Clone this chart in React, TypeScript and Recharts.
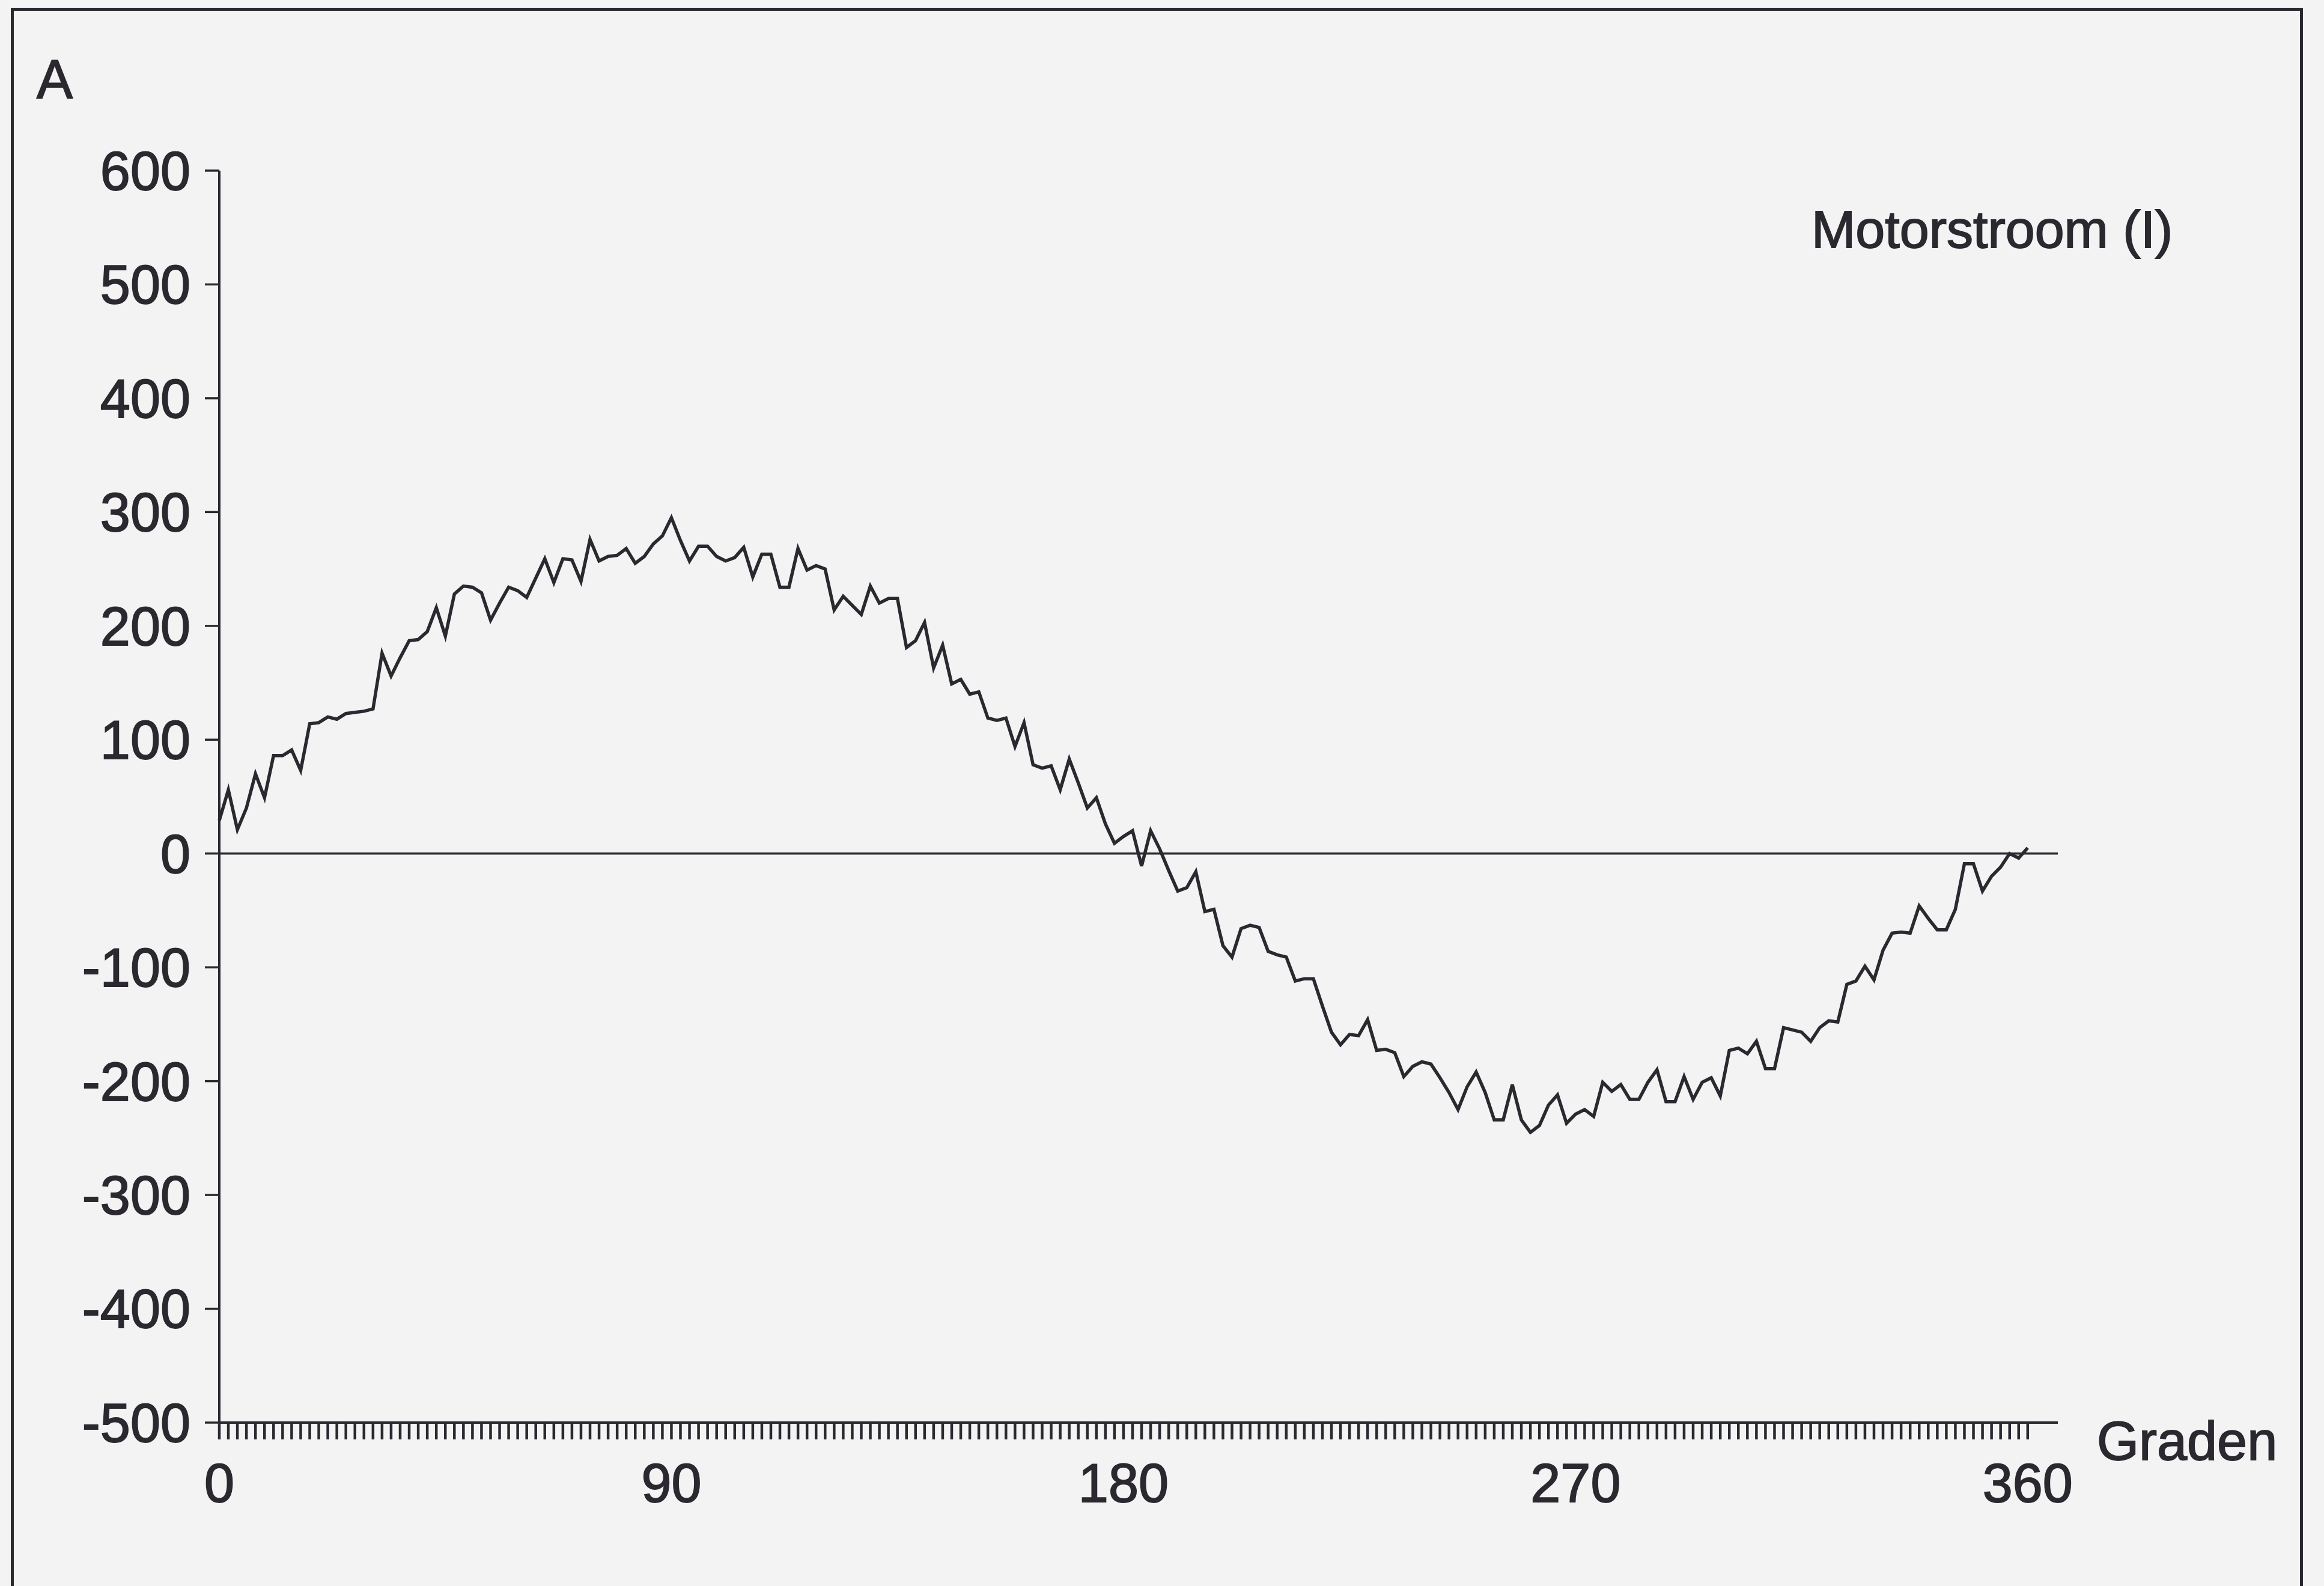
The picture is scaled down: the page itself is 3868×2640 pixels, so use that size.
import React from 'react';
import { LineChart, Line, XAxis, YAxis, ReferenceLine } from 'recharts';

// Motorstroom in A, one sample every 1.8 degrees (0 .. 360)
const stroom: number[] = [
    29, 56, 21, 40, 70, 49, 86, 86, 91, 73,
    114, 115, 120, 118, 123, 124, 125, 127, 176, 156,
    172, 187, 188, 195, 216, 191, 228, 235, 234, 229,
    205, 220, 234, 231, 225, 242, 259, 238, 259, 258,
    239, 276, 257, 261, 262, 268, 255, 261, 272, 279,
    295, 275, 257, 270, 270, 261, 257, 260, 269, 243,
    263, 263, 234, 234, 268, 249, 253, 250, 214, 226,
    218, 210, 235, 220, 224, 224, 181, 187, 203, 163,
    183, 149, 153, 140, 142, 119, 117, 119, 94, 115,
    78, 75, 77, 56, 83, 62, 40, 49, 26, 9,
    15, 20, -11, 20, 4, -15, -33, -30, -16, -51,
    -49, -81, -91, -66, -63, -65, -86, -89, -91, -112,
    -110, -110, -134, -157, -168, -159, -160, -146, -173, -172,
    -175, -196, -187, -183, -185, -197, -210, -225, -205, -192,
    -210, -234, -234, -203, -234, -245, -239, -221, -212, -237,
    -229, -225, -231, -201, -209, -203, -216, -216, -201, -190,
    -218, -218, -196, -216, -201, -197, -213, -173, -171, -176,
    -165, -189, -189, -153, -155, -157, -165, -153, -147, -148,
    -115, -112, -99, -111, -85, -70, -69, -70, -46, -57,
    -67, -67, -49, -9, -9, -33, -20, -12, 0, -4,
    5,
];

const STAP = 1.8; // graden per meetpunt
const yTicks = [-500, -400, -300, -200, -100, 0, 100, 200, 300, 400, 500, 600];
const xLabels = [0, 90, 180, 270, 360];

const data = stroom.map((v, i) => ({ graden: Math.round(i * STAP * 10) / 10, stroom: v }));
const xTicks = data.map((d) => d.graden);

const W = 3868;
const H = 2640;
const INK = '#2b2830';
const BG = '#f2f3f2';
const FONT = '"Liberation Sans", Arial, Helvetica, sans-serif';

// print looks a bit heavier than plain Arial
const textStyle = { fill: INK, fontFamily: FONT, stroke: INK, strokeWidth: 1.8 };

// only every 90 degrees gets a number, every sample gets a tick line
const XTick = (props: any) => {
    const { x, y, payload } = props;
    if (!xLabels.includes(payload.value)) return <g />;
    return (
        <text x={x} y={y + 94} textAnchor="middle" fontSize={90} {...textStyle}>
            {payload.value}
        </text>
    );
};

const App: React.FC = () => {
    return (
        <div style={{ position: 'absolute', left: 0, top: 0, width: W, height: H, background: BG, overflow: 'hidden' }}>
            {/* kader */}
            <div
                style={{
                    position: 'absolute',
                    left: 18,
                    top: 13,
                    width: 3815,
                    height: 2700,
                    border: `5px solid ${INK}`,
                    boxSizing: 'border-box',
                }}
            />
            <div style={{ position: 'absolute', left: 0, top: 0 }}>
                <LineChart width={W} height={H} data={data} margin={{ top: 284, right: 443, bottom: 122, left: 65 }}>
                    <XAxis
                        dataKey="graden"
                        type="number"
                        domain={[0, 366]}
                        ticks={xTicks}
                        interval={0}
                        tickSize={28}
                        tickMargin={10}
                        tick={XTick}
                        height={150}
                        axisLine={{ stroke: INK, strokeWidth: 4 }}
                        tickLine={{ stroke: INK, strokeWidth: 4.5 }}
                    />
                    <YAxis
                        type="number"
                        domain={[-500, 600]}
                        ticks={yTicks}
                        interval={0}
                        width={300}
                        tickSize={24}
                        tickMargin={24}
                        tick={{ fontSize: 90, ...textStyle }}
                        axisLine={{ stroke: INK, strokeWidth: 4 }}
                        tickLine={{ stroke: INK, strokeWidth: 3.5 }}
                    />
                    <ReferenceLine y={0} stroke={INK} strokeWidth={3.5} />
                    <Line
                        type="linear"
                        dataKey="stroom"
                        stroke={INK}
                        strokeWidth={5.5}
                        strokeLinejoin="miter"
                        dot={false}
                        isAnimationActive={false}
                    />
                    <text x={61} y={163} fontSize={90} {...textStyle}>A</text>
                    <text x={3015} y={412} fontSize={88} {...textStyle}>Motorstroom (I)</text>
                    <text x={3490} y={2430} fontSize={90} {...textStyle}>Graden</text>
                </LineChart>
            </div>
        </div>
    );
};

export default App;
